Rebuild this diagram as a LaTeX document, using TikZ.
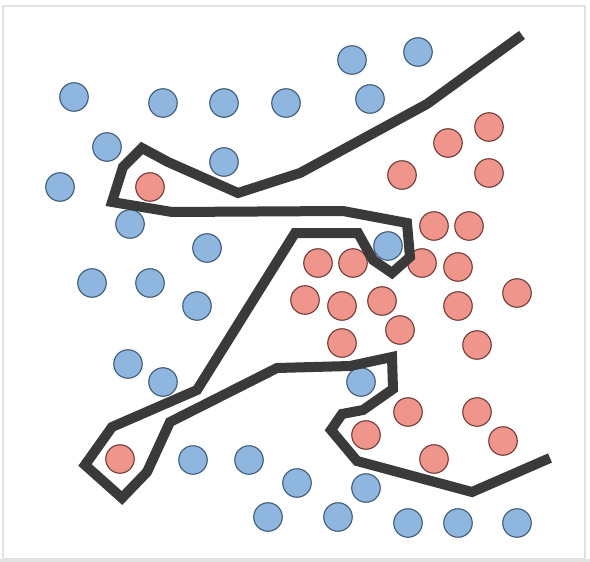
\documentclass[tikz,border=0pt]{standalone}
\definecolor{bluefill}{HTML}{8FB6DE}
\definecolor{blueline}{HTML}{3E5A74}
\definecolor{redfill}{HTML}{F0958B}
\definecolor{redline}{HTML}{6E3B36}
\definecolor{boundary}{HTML}{3A3A3A}
\definecolor{framegray}{HTML}{E2E2E2}
\begin{document}
\begin{tikzpicture}[x=1pt,y=-1pt,
  bdot/.style={circle,draw=blueline,fill=bluefill,line width=1.1pt,minimum size=28.5pt,inner sep=0pt},
  rdot/.style={circle,draw=redline,fill=redfill,line width=1.1pt,minimum size=28.5pt,inner sep=0pt},
  boundaryline/.style={draw=boundary,line width=10pt,line join=miter,miter limit=4}]
\useasboundingbox (0,0) rectangle (590,562);
\fill[white] (0,0) rectangle (590,562);
\draw[framegray,line width=2pt] (3,6) rectangle (585,559);
\fill[framegray] (0,559) rectangle (590,562);
% blue points
\foreach \px/\py [count=\i] in {74/97,163/103,224/103,286/103,352/60,418/52,370/99,107/147,224/162,60/187,130/224,207/248,388/246,92/283,150/283,197/306,128/364,163/382,361/382,193/460,249/460,297/483,366/488,268/517,338/517,408/523,458/523,517/523}
  \node[bdot] (b\i) at (\px,\py) {};
% red points
\foreach \px/\py [count=\i] in {150/187,489/127,448/143,402/175,489/173,434/226,469/226,318/263,353/263,422/263,458/267,305/300,342/306,382/301,458/306,517/293,400/330,342/343,477/345,408/412,477/412,366/435,503/441,434/459,120/459}
  \node[rdot] (r\i) at (\px,\py) {};
% decision boundary
\draw[boundaryline] (522,35) -- (427,104) -- (300,173) -- (238,193) -- (168,162) -- (142,148)
  -- (123,167) -- (112,202) -- (172,212) -- (343,211) -- (407,223) -- (410,257) -- (392,273)
  -- (373,260) -- (358,233) -- (295,233) -- (197,390) -- (112,427) -- (85,465) -- (122,498)
  -- (147,472) -- (170,422) -- (277,368) -- (350,366) -- (392,357) -- (393,389) -- (363,410)
  -- (342,414) -- (331,430) -- (357,461) -- (472,492) -- (550,458);
\end{tikzpicture}
\end{document}
